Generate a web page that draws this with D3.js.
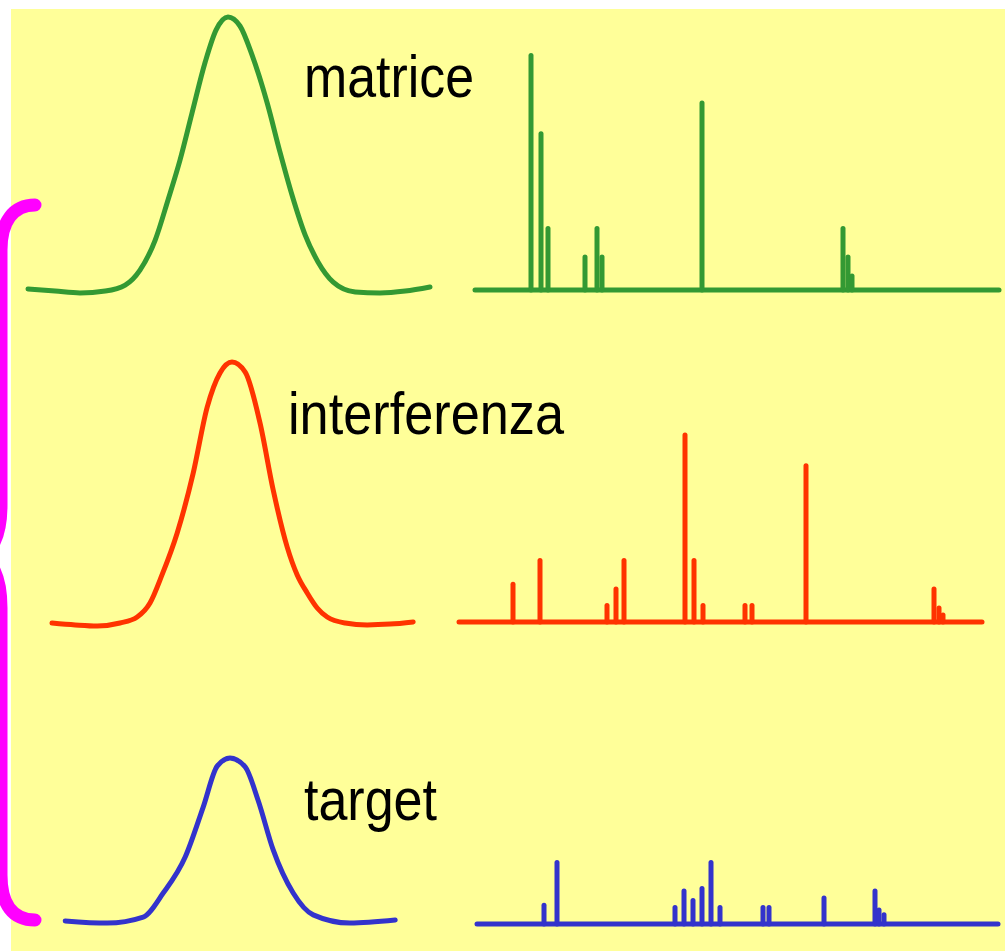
<!DOCTYPE html>
<html>
<head>
<meta charset="utf-8">
<script src="https://cdn.jsdelivr.net/npm/d3@7"></script>
<style>
  html, body { margin: 0; padding: 0; background: #ffffff; }
  svg { display: block; }
</style>
</head>
<body>
<div id="chart"></div>
<script>
// ---------------- DATA ----------------
const labels = ["matrice", "interferenza", "target"];
const colors = ["#339933", "#FF3300", "#3333CC"];

// Chromatographic peaks: [retention time, intensity %]
const chromMatrice = [
  [-0.05, 0.4], [0.63, -0.4], [1.25, -1.1], [1.88, -0.4], [2.38, 1.8], [2.75, 7.3],
  [3.13, 18.3], [3.45, 33.0], [3.75, 47.6], [4.05, 64.8], [4.38, 83.5], [4.65, 95.2],
  [4.95, 100], [5.25, 96.7], [5.55, 86.1], [5.93, 68.5], [6.25, 50.5], [6.55, 34.8],
  [6.88, 20.1], [7.2, 10.3], [7.58, 2.9], [8.13, -0.7], [8.75, -1.1], [9.38, -0.4], [10.0, 1.1]
];
const chromInterferenza = [
  [0.55, 0], [1.13, -0.7], [1.68, -1.1], [2.25, 0], [2.68, 2.2], [3.0, 7.3],
  [3.3, 17.6], [3.68, 33.0], [4.08, 54.9], [4.43, 79.1], [4.75, 91.6], [5.05, 95.6],
  [5.38, 91.9], [5.75, 73.3], [6.08, 48.7], [6.43, 27.8], [6.68, 17.6], [6.93, 11.0],
  [7.18, 5.5], [7.43, 2.2], [7.88, 0], [8.43, -0.7], [9.0, -0.4], [9.58, 0.4]
];
const chromTarget = [
  [0.88, 0.4], [1.93, -0.4], [2.83, 1.8], [3.33, 10.6], [3.88, 23.8], [4.33, 42.1],
  [4.68, 57.1], [5.0, 60.1], [5.38, 56.8], [5.7, 44.7], [6.08, 26.4], [6.58, 10.6],
  [7.08, 2.6], [8.0, -0.4], [9.13, 0.7]
];

// Mass spectra: [m/z, relative intensity %]
const specMatrice = [
  [156, 100], [166, 67], [173, 27], [210, 15], [222, 27], [227, 15],
  [327, 80], [468, 27], [473, 15], [477, 7]
];
const specInterferenza = [
  [138, 17], [165, 27], [232, 8], [241, 15], [249, 27], [310, 80], [319, 27],
  [328, 8], [370, 8], [377, 8], [431, 67], [559, 15], [564, 7], [568, 4]
];
const specTarget = [
  [169, 9], [182, 27], [300, 8], [309, 15], [318, 11], [327, 16], [336, 27],
  [345, 8], [388, 8], [394, 8], [449, 12], [500, 15], [504, 7], [509, 5]
];
// m/z extent of each spectrum's baseline
const specRanges = [[100, 624], [84, 607], [102, 623]];

// ---------------- LAYOUT ----------------
const W = 1005, H = 951;
const panels = [
  { chrom: chromMatrice, spec: specMatrice, chromBase: 290, specBase: 290, labelX: 304, labelY: 97, labelW: 170 },
  { chrom: chromInterferenza, spec: specInterferenza, chromBase: 623, specBase: 622, labelX: 288, labelY: 434, labelW: 276 },
  { chrom: chromTarget, spec: specTarget, chromBase: 922, specBase: 924, labelX: 304, labelY: 820, labelW: 133 }
];

const svg = d3.select("#chart").append("svg").attr("width", W).attr("height", H);

// background
svg.append("rect").attr("x", 11).attr("y", 9).attr("width", W - 11).attr("height", H - 9)
  .attr("fill", "#FFFF99");

const xChrom = d3.scaleLinear().domain([0, 10]).range([30, 430]);
const xSpec = d3.scaleLinear().domain([100, 625]).range([475, 1000]);

panels.forEach((p, k) => {
  const g = svg.append("g");
  const yChrom = d3.scaleLinear().domain([0, 100]).range([p.chromBase, p.chromBase - 273]);
  const ySpec = d3.scaleLinear().domain([0, 100]).range([p.specBase, p.specBase - 237]);

  const line = d3.line()
    .x(d => xChrom(d[0]))
    .y(d => yChrom(d[1]))
    .curve(d3.curveMonotoneX);

  g.append("path").datum(p.chrom)
    .attr("d", line)
    .attr("fill", "none")
    .attr("stroke", colors[k])
    .attr("stroke-width", 5)
    .attr("stroke-linecap", "round")
    .attr("stroke-linejoin", "round");

  // spectrum baseline
  g.append("line")
    .attr("x1", xSpec(specRanges[k][0])).attr("x2", xSpec(specRanges[k][1]))
    .attr("y1", ySpec(0)).attr("y2", ySpec(0))
    .attr("stroke", colors[k]).attr("stroke-width", 5).attr("stroke-linecap", "round");

  // spectrum sticks
  g.selectAll("line.peak").data(p.spec).enter().append("line")
    .attr("class", "peak")
    .attr("x1", d => xSpec(d[0])).attr("x2", d => xSpec(d[0]))
    .attr("y1", ySpec(0)).attr("y2", d => ySpec(d[1]) + 2.5)
    .attr("stroke", colors[k]).attr("stroke-width", 5).attr("stroke-linecap", "round");

  g.append("text")
    .attr("x", p.labelX).attr("y", p.labelY)
    .attr("font-family", "'Liberation Sans Narrow', 'Arial Narrow', 'Liberation Sans', Arial, sans-serif")
    .attr("font-size", 60)
    .attr("textLength", p.labelW)
    .attr("lengthAdjust", "spacingAndGlyphs")
    .attr("fill", "#000")
    .text(labels[k]);
});

// magenta brace grouping the three panels
svg.append("path")
  .attr("d", "M35,205 C13,205 1,222 1,250 L1,505 C1,535 -8,556 -25,556 C-8,556 1,578 1,608 L1,875 C1,905 13,920 35,920")
  .attr("fill", "none")
  .attr("stroke", "#FF00FF")
  .attr("stroke-width", 13)
  .attr("stroke-linecap", "round")
  .attr("stroke-linejoin", "round");
</script>
</body>
</html>
